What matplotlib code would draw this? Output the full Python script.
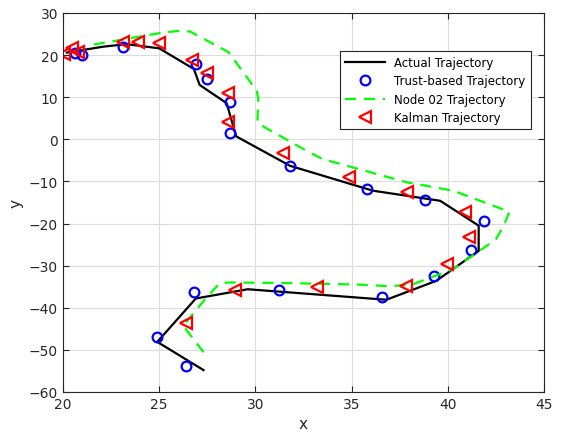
import numpy as np
import matplotlib.pyplot as plt

# actual trajectory
actual_x = [20.2, 22.1, 23.3, 25.0, 26.8, 27.1, 28.5, 29.0, 31.8, 36.1, 39.6, 41.6, 41.6, 39.4, 36.8, 29.6, 26.9, 24.9, 27.3]
actual_y = [20.6, 22.0, 22.6, 21.6, 16.7, 12.9, 8.6, 0.7, -6.3, -12.2, -14.6, -20.5, -26.5, -33.6, -38.1, -35.6, -37.8, -48.1, -54.8]

# trust-based estimates
trust_x = [20.6, 21.0, 23.1, 26.9, 27.5, 28.7, 28.7, 31.8, 35.8, 38.8, 41.9, 41.2, 39.3, 36.6, 31.2, 26.8, 24.9, 26.4]
trust_y = [20.4, 20.0, 22.0, 17.8, 14.3, 8.9, 1.4, -6.4, -11.8, -14.3, -19.5, -26.3, -32.5, -37.5, -35.8, -36.3, -46.9, -53.9]

# node 02
node_x = [21.6, 25.0, 25.9, 26.6, 28.6, 30.07, 30.15, 30.1, 30.5, 32.8, 33.5, 37.85, 40.27, 43.2, 42.9, 42.5, 41.65, 40.27, 38.2, 37.0, 35.4, 31.3, 28.68, 28.16, 27.55, 27.03, 26.25, 27.45]
node_y = [22.5, 25.2, 25.7, 25.6, 20.7, 11.5, 9.6, 4.0, 2.8, -3.1, -4.7, -10.2, -12.2, -17.2, -20.5, -23.7, -26.5, -30.8, -34.4, -34.9, -34.5, -34.1, -34.0, -34.1, -37.1, -39.9, -44.3, -51.4]

# kalman
kal_x = [20.05, 20.45, 20.8, 23.1, 23.9, 25.0, 26.7, 27.5, 28.6, 28.6, 31.45, 34.85, 37.85, 40.9, 41.1, 39.95, 37.8, 33.2, 28.95, 26.4]
kal_y = [20.3, 21.6, 20.7, 23.0, 23.0, 22.9, 18.8, 15.7, 11.0, 4.2, -3.3, -9.0, -12.4, -17.2, -23.3, -29.6, -34.8, -35.0, -35.7, -43.5]

fig = plt.figure(figsize=(5.65, 4.39), dpi=100)
ax = fig.add_axes([0.1115, 0.1048, 0.8515, 0.8634])

ax.plot(actual_x, actual_y, color='black', lw=1.6, label='Actual Trajectory')
ax.plot(trust_x, trust_y, 'o', color='blue', mfc='none', mew=1.6, ms=7, label='Trust-based Trajectory')
ax.plot(node_x, node_y, color=(0, 1, 0), lw=1.6, dashes=(5, 3.5), label='Node 02 Trajectory')
ax.plot(kal_x, kal_y, '<', color='red', mfc='none', mew=1.6, ms=8, label='Kalman Trajectory')

ax.set_xlim(20, 45)
ax.set_ylim(-60, 30)
ax.set_xticks(np.arange(20, 46, 5))
ax.set_yticks(np.arange(-60, 31, 10))
ax.grid(True, color='#dcdcdc', lw=0.8)
ax.set_axisbelow(True)
ax.tick_params(direction='in', top=True, right=True, labelsize=10, colors='#262626', length=4)
for s in ax.spines.values():
    s.set_color('#262626')
    s.set_linewidth(0.8)
ax.set_xlabel('x', fontsize=11, color='#262626')
ax.set_ylabel('y', fontsize=11, color='#262626')

leg = ax.legend(loc='upper right', bbox_to_anchor=(0.985, 0.916), fontsize=8.5, fancybox=False,
                edgecolor='#262626', framealpha=1, borderpad=0.45, labelspacing=0.45, handlelength=3.4)
leg.get_frame().set_linewidth(0.8)

fig.savefig('out.png', dpi=100)
